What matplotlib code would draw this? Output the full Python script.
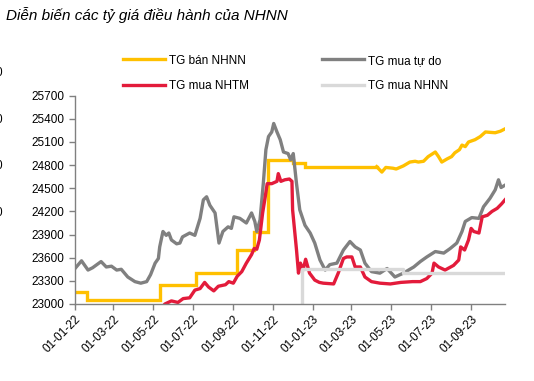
import numpy as np
import pandas as pd
import matplotlib
matplotlib.use('Agg')
import matplotlib.pyplot as plt
import matplotlib.dates as mdates

plt.rcParams['font.family'] = ['Liberation Sans', 'DejaVu Sans']

# TG ban NHNN - stepped part (administered) then floating part
ban_step_dates = ['2022-01-01', '2022-01-20', '2022-05-11', '2022-07-06', '2022-09-07',
                  '2022-10-03', '2022-10-24', '2022-12-01', '2022-12-20', '2023-04-09']
ban_step_vals = [23150, 23050, 23250, 23400, 23700, 23930, 24870, 24830, 24780, 24780]

ban_float_dates = ['2023-04-09', '2023-04-17', '2023-04-23', '2023-05-04', '2023-05-09',
                   '2023-05-20', '2023-05-30', '2023-06-07', '2023-06-12', '2023-06-20',
                   '2023-06-27', '2023-07-08', '2023-07-13', '2023-07-18', '2023-07-26',
                   '2023-08-02', '2023-08-07', '2023-08-14', '2023-08-18', '2023-08-23',
                   '2023-08-28', '2023-09-07', '2023-09-15', '2023-09-23', '2023-09-30',
                   '2023-10-08', '2023-10-16', '2023-10-23']
ban_float_vals = [24780, 24710, 24770, 24760, 24750, 24790, 24840, 24850, 24840, 24850,
                  24910, 24970, 24910, 24840, 24880, 24910, 24960, 25000, 25060, 25040,
                  25100, 25130, 25170, 25230, 25225, 25220, 25240, 25270]

tudo_dates = ['2022-01-01', '2022-01-11', '2022-01-21', '2022-01-28', '2022-02-10', '2022-02-18',
              '2022-02-26', '2022-03-06', '2022-03-13', '2022-03-23', '2022-04-03', '2022-04-12',
              '2022-04-21', '2022-04-27', '2022-05-04', '2022-05-09', '2022-05-11', '2022-05-16',
              '2022-05-21', '2022-05-25', '2022-05-29', '2022-06-06', '2022-06-11', '2022-06-15',
              '2022-06-26', '2022-07-04', '2022-07-12', '2022-07-17', '2022-07-22', '2022-07-27',
              '2022-08-04', '2022-08-10', '2022-08-16', '2022-08-24', '2022-08-29', '2022-09-02',
              '2022-09-11', '2022-09-21', '2022-09-29', '2022-10-04', '2022-10-07', '2022-10-12',
              '2022-10-17', '2022-10-21', '2022-10-25', '2022-10-30', '2022-11-02', '2022-11-07',
              '2022-11-12', '2022-11-17', '2022-11-24', '2022-11-28', '2022-12-02', '2022-12-07',
              '2022-12-12', '2022-12-20', '2022-12-28', '2023-01-04', '2023-01-12', '2023-01-20',
              '2023-01-27', '2023-02-07', '2023-02-17', '2023-02-27', '2023-03-07', '2023-03-15',
              '2023-03-22', '2023-04-01', '2023-04-14', '2023-04-25', '2023-05-07', '2023-05-20',
              '2023-06-05', '2023-06-15', '2023-06-25', '2023-07-08', '2023-07-21', '2023-07-31',
              '2023-08-10', '2023-08-18', '2023-08-23', '2023-09-02', '2023-09-13', '2023-09-20',
              '2023-09-30', '2023-10-08', '2023-10-13', '2023-10-17', '2023-10-23']
tudo_vals = [23460, 23560, 23440, 23470, 23550, 23480,
             23490, 23440, 23450, 23350, 23290, 23270,
             23290, 23380, 23530, 23590, 23740, 23940,
             23890, 23920, 23830, 23780, 23790, 23870,
             23920, 23890, 24110, 24350, 24390, 24280,
             24180, 23790, 23940, 24000, 23980, 24130,
             24110, 24050, 24180, 24070, 23940, 24090,
             24560, 25000, 25170, 25230, 25340, 25230,
             25130, 24970, 24950, 24870, 24950, 24560,
             24220, 24020, 23920, 23790, 23570, 23440,
             23510, 23530, 23700, 23810, 23740, 23700,
             23530, 23420, 23400, 23460, 23350, 23400,
             23480, 23550, 23610, 23680, 23660, 23720,
             23790, 23940, 24070, 24120, 24110, 24260,
             24370, 24480, 24610, 24510, 24540]

nhtm_dates = ['2022-05-14', '2022-05-19', '2022-05-29', '2022-06-08', '2022-06-16', '2022-06-26',
              '2022-07-04', '2022-07-12', '2022-07-19', '2022-07-25', '2022-08-02', '2022-08-09',
              '2022-08-20', '2022-08-25', '2022-09-01', '2022-09-07', '2022-09-14', '2022-09-21',
              '2022-09-29', '2022-10-03', '2022-10-07', '2022-10-11', '2022-10-16', '2022-10-20',
              '2022-10-23', '2022-10-30', '2022-11-07', '2022-11-09', '2022-11-13', '2022-11-19',
              '2022-11-26', '2022-11-30', '2022-12-01', '2022-12-04', '2022-12-07', '2022-12-10',
              '2022-12-13', '2022-12-17', '2022-12-21', '2022-12-27', '2023-01-04', '2023-01-11',
              '2023-01-17', '2023-02-02', '2023-02-09', '2023-02-17', '2023-02-22', '2023-03-02',
              '2023-03-07', '2023-03-15', '2023-03-22', '2023-04-01', '2023-04-14', '2023-04-30',
              '2023-05-16', '2023-06-03', '2023-06-15', '2023-06-25', '2023-07-03', '2023-07-06',
              '2023-07-13', '2023-07-23', '2023-08-05', '2023-08-13', '2023-08-16', '2023-08-22',
              '2023-08-28', '2023-09-01', '2023-09-05', '2023-09-13', '2023-09-18', '2023-09-26',
              '2023-10-03', '2023-10-11', '2023-10-18', '2023-10-23']
nhtm_vals = [22950, 23000, 23040, 23020, 23070, 23080,
             23180, 23200, 23280, 23220, 23170, 23230,
             23250, 23290, 23270, 23360, 23420, 23530,
             23640, 23720, 23710, 23830, 24180, 24390,
             24560, 24560, 24590, 24690, 24590, 24610,
             24620, 24590, 24220, 23960, 23700, 23400,
             23530, 23440, 23580, 23400, 23310, 23280,
             23270, 23260, 23400, 23590, 23610, 23610,
             23480, 23480, 23350, 23290, 23270, 23260,
             23280, 23290, 23290, 23330, 23400, 23530,
             23480, 23440, 23500, 23570, 23740, 23700,
             23830, 23980, 23940, 23920, 24130, 24150,
             24200, 24240, 24300, 24350]

nhnn_mua_dates = ['2022-12-15', '2022-12-15', '2023-05-20', '2023-05-20', '2023-10-23']
nhnn_mua_vals = [22900, 23450, 23450, 23400, 23400]

tick_dates = pd.date_range('2022-01-01', '2023-09-01', freq='2MS')

fig = plt.figure(figsize=(5.34, 3.81), dpi=100)
ax = fig.add_axes([75 / 534, 1 - 304 / 381, 430 / 534, (304 - 95.7) / 381])

c_ban = '#FFC000'
c_tudo = '#808080'
c_nhtm = '#E31B3B'
c_nhnn = '#D9D9D9'
lw = 2.4

ax.plot(pd.to_datetime(ban_step_dates), ban_step_vals, color=c_ban, lw=lw,
        drawstyle='steps-post', label='TG bán NHNN', solid_joinstyle='miter')
ax.plot(pd.to_datetime(ban_float_dates), ban_float_vals, color=c_ban, lw=lw)
ax.plot(pd.to_datetime(tudo_dates), tudo_vals, color=c_tudo, lw=lw, label='TG mua tự do')
ax.plot(pd.to_datetime(nhtm_dates), nhtm_vals, color=c_nhtm, lw=lw, label='TG mua NHTM')
ax.plot(pd.to_datetime(nhnn_mua_dates), nhnn_mua_vals, color=c_nhnn, lw=lw, label='TG mua NHNN')

ax.set_ylim(23000, 25700)
ax.set_yticks(np.arange(23000, 25701, 300))
ax.set_xlim(pd.Timestamp('2022-01-01'), pd.Timestamp('2023-10-23'))
ax.set_xticks(tick_dates)
ax.xaxis.set_major_formatter(mdates.DateFormatter('%d-%m-%y'))
for lab in ax.get_xticklabels():
    lab.set_rotation(45)
    lab.set_ha('right')
    lab.set_rotation_mode('anchor')

for s in ['top', 'right']:
    ax.spines[s].set_visible(False)
for s in ['left', 'bottom']:
    ax.spines[s].set_color('#808080')
    ax.spines[s].set_linewidth(1)
ax.tick_params(axis='both', colors='#808080', labelcolor='black', labelsize=8.5,
               length=4, width=1, direction='out')
ax.tick_params(axis='x', pad=3)

handles, labels = ax.get_legend_handles_labels()
order = [0, 2, 1, 3]
fig.legend([handles[i] for i in order], [labels[i] for i in order], ncol=2,
           loc='upper left', bbox_to_anchor=(112 / 534, 1 - 44 / 381), frameon=False,
           fontsize=8.5, handlelength=3.6, handletextpad=0.3, columnspacing=6.2,
           labelspacing=1.15)

fig.text(6 / 534, 1 - 15 / 381, 'Diễn biến các tỷ giá điều hành của NHNN', style='italic',
         fontsize=11, va='center', ha='left')

for yp in [73, 120, 166, 213]:
    fig.text(2 / 534, 1 - yp / 381, '0', fontsize=8.5, ha='right', va='center')

fig.savefig('out.png', dpi=100)
